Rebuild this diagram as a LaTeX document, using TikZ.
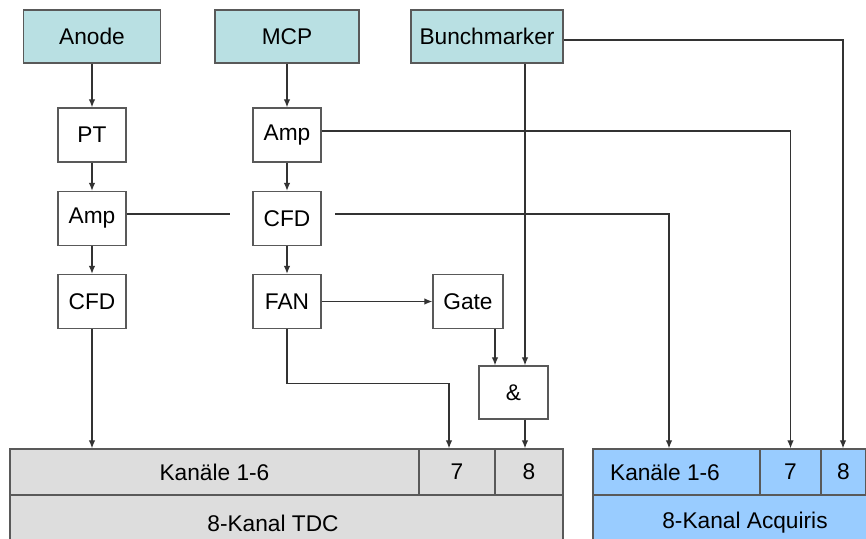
\documentclass[tikz,border=0pt]{standalone}
\usepackage{fontspec}
\setmainfont{Liberation Sans}
\usetikzlibrary{arrows.meta}
\definecolor{srccyan}{RGB}{185,224,227}
\definecolor{tdcgray}{RGB}{221,221,221}
\definecolor{acqblue}{RGB}{153,204,255}
\begin{document}
\begin{tikzpicture}[x=1pt,y=-1pt,>={Latex[length=8pt,width=6.5pt]},
  lbl/.style={inner sep=0pt,font=\fontsize{22.7}{27}\selectfont},
  box/.style={lbl,draw=black!65,line width=1.3pt,fill=white,minimum width=68pt,minimum height=54pt},
  src/.style={box,fill=srccyan,minimum height=53pt},
  tdccell/.style={box,fill=tdcgray,minimum height=46pt},
  acqcell/.style={box,fill=acqblue,minimum height=46pt},
  wire/.style={draw=black!80,line width=1.2pt}]
\useasboundingbox (0,0) rectangle (866,538);
\clip (0,0) rectangle (866,538);
\node[src,minimum width=137pt] (anode) at (92,36.5) {Anode};
\node[src,minimum width=144pt] (mcp) at (287,36.5) {MCP};
\node[src,minimum width=152pt] (bunch) at (487,36.5) {Bunchmarker};
\node[box] (pt) at (92,135) {PT};
\node[box] (ampA) at (92,218.5) {Amp};
\node[box] (cfdA) at (92,301.5) {CFD};
\node[box] (ampM) at (287,135) {Amp};
\node[box] (cfdM) at (287,218.5) {CFD};
\node[box] (fan) at (287,301.5) {FAN};
\node[box,minimum width=70pt] (gate) at (468,301.5) {Gate};
\node[box,minimum width=69pt,minimum height=53pt] (and) at (513.5,392.5) {\&};
\node[tdccell,minimum width=409pt] (tdc16) at (214.5,472) {Kanäle 1-6};
\node[tdccell,minimum width=76pt] (tdc7) at (457,472) {7};
\node[tdccell,minimum width=68pt] (tdc8) at (529,472) {8};
\node[tdccell,minimum width=553pt,minimum height=56pt] (tdc) at (286.5,523) {};
\node[lbl] (tdctext) at (273,523) {8-Kanal TDC};
\node[acqcell,minimum width=167pt] (acq16) at (676.5,472) {};
\node[lbl] (acq16text) at (665,472) {Kanäle 1-6};
\node[acqcell,minimum width=61pt] (acq7) at (790.5,472) {7};
\node[acqcell,minimum width=45pt] (acq8) at (843.5,472) {8};
\node[acqcell,minimum width=304pt,minimum height=56pt] (acq) at (745,523) {8-Kanal Acquiris};
\coordinate (gapL) at (230,214);
\coordinate (gapR) at (335,214);
\draw[wire,->] (anode) -- (pt);
\draw[wire,->] (pt) -- (ampA);
\draw[wire,->] (ampA) -- (cfdA);
\draw[wire,->] (cfdA.south) -- (cfdA.south |- tdc16.north);
\draw[wire,->] (mcp) -- (ampM);
\draw[wire,->] (ampM) -- (cfdM);
\draw[wire,->] (cfdM) -- (fan);
\draw[wire,->] (fan) -- (gate);
\draw[wire,->] (fan.south) -- ++(0,54) -| ([xshift=-8pt]tdc7.north);
\draw[wire,->] ([xshift=27pt]gate.south) -- ([xshift=27pt]gate.south |- and.north);
\draw[wire,->] ([xshift=38pt]bunch.south) -- ([xshift=38pt]bunch.south |- and.north);
\draw[wire,->] ([xshift=11.5pt]and.south) -- ([xshift=11.5pt]and.south |- tdc8.north);
\draw[wire,->] ([yshift=4pt]ampM.east) -| (acq7.north);
\draw[wire,->] ([yshift=-3.5pt]bunch.east) -| ([xshift=-0.5pt]acq8.north);
\draw[wire] ([yshift=4.5pt]ampA.east) -- (gapL);
\draw[wire,->] (gapR) -| ([xshift=-7.5pt]acq16.north);
\end{tikzpicture}
\end{document}
